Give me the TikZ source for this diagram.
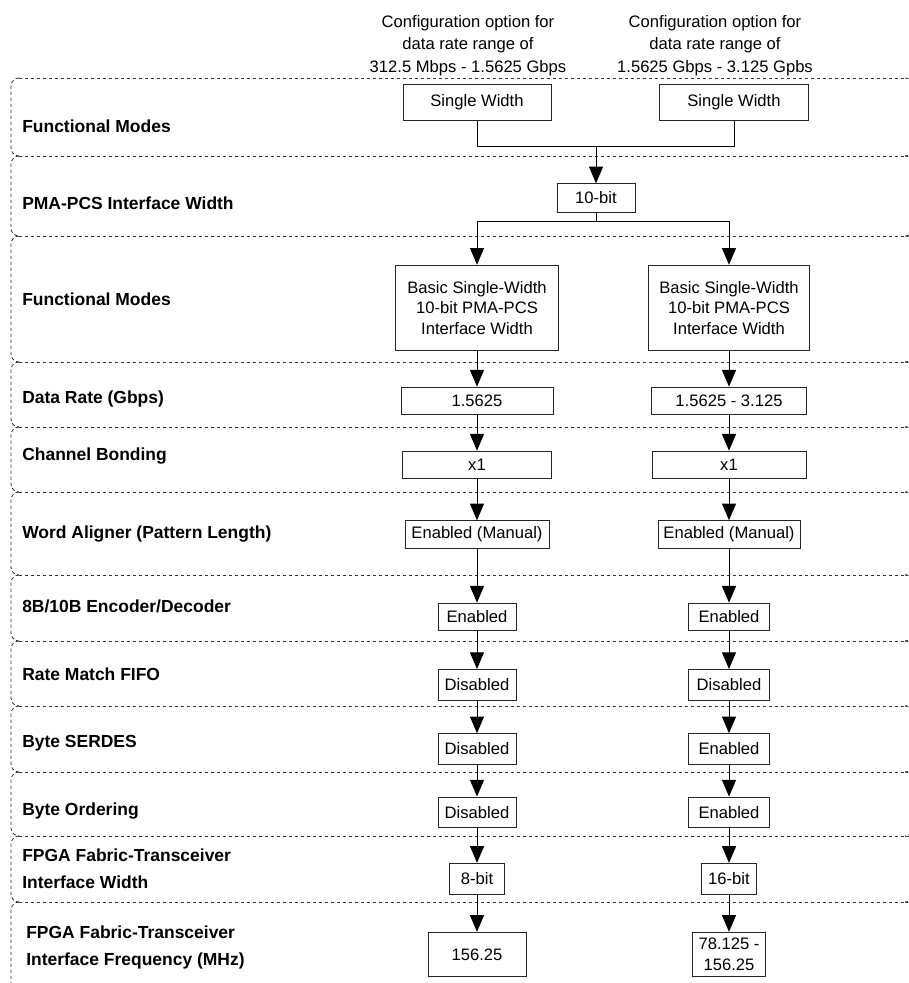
\documentclass[tikz,border=0pt]{standalone}
\usepackage{fontspec}
\setmainfont{Liberation Sans}
\usetikzlibrary{arrows.meta}
\newcommand\pxu{0.75pt}

\begin{document}
\begin{tikzpicture}[x=0.75pt,y=-0.75pt,
  band/.style={draw=black!80, line width=0.6pt, dash pattern=on 2.6pt off 1.9pt},
  box/.style={draw=black!85, line width=0.75pt, inner sep=0pt, align=center,
    font=\fontsize{12.45}{15.4}\selectfont},
  sz/.style 2 args={minimum width=#1*\pxu, minimum height=#2*\pxu},
  rowlabel/.style={anchor=base west, inner sep=0pt, align=left,
    font=\fontsize{13.1}{20}\selectfont\bfseries},
  head/.style={inner sep=0pt, align=center, font=\fontsize{12.45}{16.8}\selectfont},
  flow/.style={line width=0.75pt, -{Triangle[length=12.5pt,width=10.5pt]}},
  link/.style={line width=0.75pt}
]
\useasboundingbox (0,0) rectangle (909,983);
\clip (0,0) rectangle (909,983);

% banded rows with curled left and right ends
\foreach \a/\b in {78/156,156/236,236/362,362/427,427/492,492/575,575/641,
                   641/706,706/772,772/836,836/902,902/1000} {
  \draw[band, rounded corners=6pt] (19,\a) -- (11,\a) -- (11,\b) -- (19,\b);
  \draw[band, rounded corners=6pt] (905,\a) -- (913,\a) -- (913,\b) -- (905,\b);
}
\foreach \y in {78,156,236,362,427,492,575,641,706,772,836,902}
  \draw[band] (19,\y) -- (905,\y);

% column headings
\node[head] (h1) at (468,45.5) {Configuration option for\\data rate range of\\312.5 Mbps - 1.5625 Gbps};
\node[head] (h2) at (715,45.5) {Configuration option for\\data rate range of\\1.5625 Gbps - 3.125 Gpbs};

% row labels (base anchor sits on the last line of a two-line label)
\node[rowlabel] (l1)  at (22,132.3) {Functional Modes};
\node[rowlabel] (l2)  at (22,209.3) {PMA-PCS Interface Width};
\node[rowlabel] (l3)  at (22,305)   {Functional Modes};
\node[rowlabel] (l4)  at (22,403)   {Data Rate (Gbps)};
\node[rowlabel] (l5)  at (22,460)   {Channel Bonding};
\node[rowlabel] (l6)  at (22,538.3) {Word Aligner (Pattern Length)};
\node[rowlabel] (l7)  at (22,612.7) {8B/10B Encoder/Decoder};
\node[rowlabel] (l8)  at (22,680.7) {Rate Match FIFO};
\node[rowlabel] (l9)  at (22,747.3) {Byte SERDES};
\node[rowlabel] (l10) at (22,815)   {Byte Ordering};
\node[rowlabel] (l11) at (22,888.3) {FPGA Fabric-Transceiver\\Interface Width};
\node[rowlabel] (l12) at (26,965)   {FPGA Fabric-Transceiver\\Interface Frequency (MHz)};

% shared top section
\node[box, sz={148}{35.5}] (sw1) at (477,102.5) {Single Width};
\node[box, sz={149}{35.5}] (sw2) at (734,102.5) {Single Width};
\node[box, sz={78}{28.3}]  (tb)  at (596,198)   {10-bit};
\coordinate (mrg) at (596,146.3);
\coordinate (spl) at (596,221.7);

% left column
\node[box, sz={163}{85}]   (b1)  at (477,307.7) {Basic Single-Width\\10-bit PMA-PCS\\Interface Width};
\node[box, sz={152}{27.7}] (r1)  at (477,401)   {1.5625};
\node[box, sz={149}{27.7}] (c1)  at (477,465)   {x1};
\node[box, sz={144}{27.6}] (em1) at (477,534.5) {Enabled (Manual)};
\node[box, sz={78}{27.7}]  (en1) at (477,617)   {Enabled};
\node[box, sz={78}{31}]    (rm1) at (477,685)   {Disabled};
\node[box, sz={78}{30.6}]  (bs1) at (477,749)   {Disabled};
\node[box, sz={78}{30.7}]  (bo1) at (477,812.4) {Disabled};
\node[box, sz={54.4}{30.7}] (w1) at (477,878.7) {8-bit};
\node[box, sz={98}{44.4}]  (f1)  at (477,954.5) {156.25};

% right column
\node[box, sz={161}{85}]   (b2)  at (729,307.7) {Basic Single-Width\\10-bit PMA-PCS\\Interface Width};
\node[box, sz={155}{27.7}] (r2)  at (729,401)   {1.5625 - 3.125};
\node[box, sz={154}{27.7}] (c2)  at (729,465)   {x1};
\node[box, sz={142}{27.6}] (em2) at (729,534.5) {Enabled (Manual)};
\node[box, sz={81}{27.7}]  (en2) at (729,617)   {Enabled};
\node[box, sz={81}{31}]    (rm2) at (729,685)   {Disabled};
\node[box, sz={81}{30.6}]  (bs2) at (729,749)   {Enabled};
\node[box, sz={81}{30.7}]  (bo2) at (729,812.4) {Enabled};
\node[box, sz={55}{30.7}]  (w2)  at (729,878.7) {16-bit};
\node[box, sz={72.6}{44.4}] (f2) at (729,954.5) {78.125 -\\156.25};

% connectors
\draw[link] (sw1.south) |- (mrg);
\draw[link] (sw2.south) |- (mrg);
\draw[flow] (mrg) -- (tb.north);
\draw[link] (tb.south) -- (spl);
\draw[flow] (spl) -| (b1.north);
\draw[flow] (spl) -| (b2.north);

\foreach \u/\v in {b1/r1,r1/c1,c1/em1,em1/en1,en1/rm1,rm1/bs1,bs1/bo1,bo1/w1,w1/f1,
                   b2/r2,r2/c2,c2/em2,em2/en2,en2/rm2,rm2/bs2,bs2/bo2,bo2/w2,w2/f2}
  \draw[flow] (\u.south) -- (\v.north);

\end{tikzpicture}
\end{document}
